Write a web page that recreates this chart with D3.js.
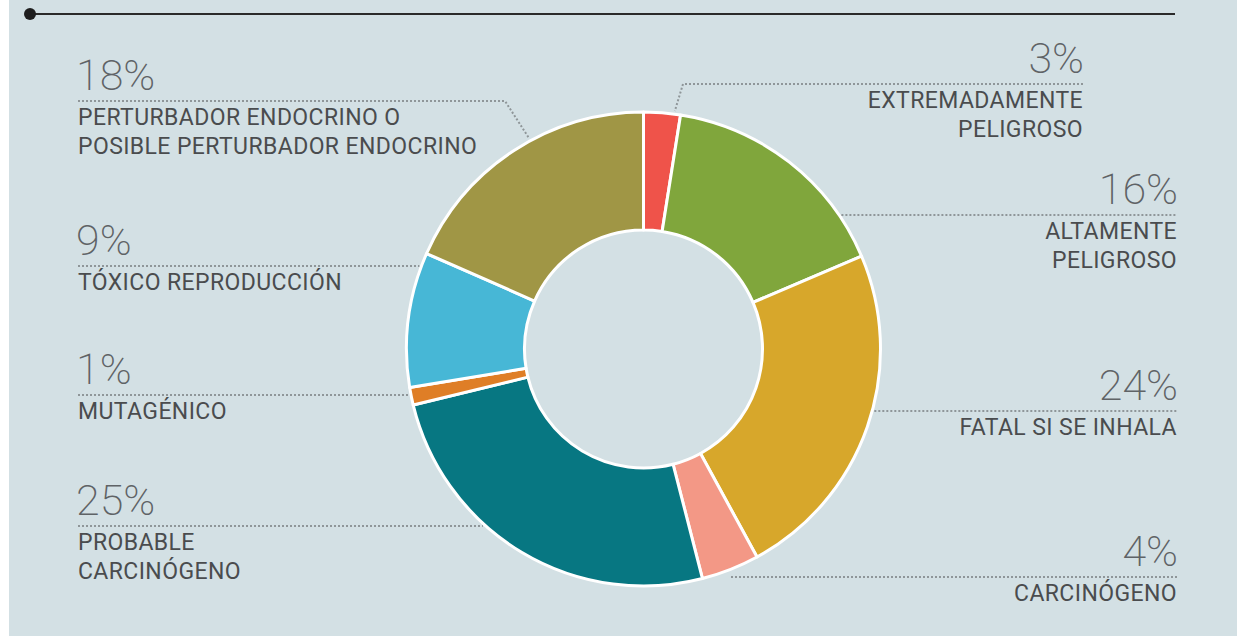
<!DOCTYPE html>
<html><head><meta charset="utf-8">
<script src="https://cdn.jsdelivr.net/npm/d3@7"></script>
<style>
html,body{margin:0;padding:0;background:#fff;}
svg{display:block;}
</style></head>
<body>
<svg id="chart" width="1246" height="636"></svg>
<script>
// ---- data ----
const categories = ["EXTREMADAMENTE\nPELIGROSO","ALTAMENTE\nPELIGROSO","FATAL SI SE INHALA","CARCINÓGENO","PROBABLE\nCARCINÓGENO","MUTAGÉNICO","TÓXICO REPRODUCCIÓN","PERTURBADOR ENDOCRINO O\nPOSIBLE PERTURBADOR ENDOCRINO"];
const values = [2.5,16.1,23.45,3.95,25.2,1.2,9.2,18.4];
const percentLabels = ["3%","16%","24%","4%","25%","1%","9%","18%"];
const colors = ["#ef534a","#80a63c","#d7a72b","#f39886","#077782","#df7e26","#47b7d6","#a09645"];

// ---- layout (label placement) ----
const layout = [
  {side:"right", y:84,  x:1083, elbowX:683, angleDeg:7.5},
  {side:"right", y:215, x:1177},
  {side:"right", y:411, x:1177},
  {side:"right", y:577, x:1177, startX:731},
  {side:"left",  y:526, x:78},
  {side:"left",  y:395, x:78},
  {side:"left",  y:266, x:78},
  {side:"left",  y:101, x:78, elbowX:505, angleDeg:331.5}
];

const W=1246,H=636;
const cx=643.5, cy=349, rOuter=237, rInner=119;
const svg=d3.select("#chart");

svg.append("rect").attr("x",9).attr("y",0).attr("width",1228).attr("height",H).attr("fill","#d3e0e4");

// top rule
svg.append("line").attr("x1",30).attr("x2",1175).attr("y1",14).attr("y2",14)
  .attr("stroke","#2a2a2a").attr("stroke-width",2);
svg.append("circle").attr("cx",30).attr("cy",14).attr("r",6).attr("fill","#1e1e1e");

const pie=d3.pie().sort(null).value(d=>d).startAngle(0).endAngle(2*Math.PI);
const arcs=pie(values);
const arc=d3.arc().innerRadius(rInner).outerRadius(rOuter);

const g=svg.append("g").attr("transform",`translate(${cx},${cy})`);
g.selectAll("path").data(arcs).join("path")
  .attr("d",arc).attr("fill",(d,i)=>colors[i])
  .attr("stroke","#fff").attr("stroke-width",3).attr("stroke-linejoin","round");

// labels
const lab=svg.append("g");
layout.forEach((L,i)=>{
  const dy=L.y-cy;
  const dx=Math.sqrt(Math.max(0,(rOuter+2)**2-dy*dy));
  let pts;
  if(L.angleDeg!==undefined){
    const a=L.angleDeg*Math.PI/180;
    const ex=cx+(rOuter+3)*Math.sin(a), ey=cy-(rOuter+3)*Math.cos(a);
    pts=[[L.x,L.y],[L.elbowX,L.y],[ex,ey]];
  } else if(L.side==="right"){
    const sx=L.startX!==undefined?L.startX:cx+dx;
    pts=[[sx,L.y],[L.x,L.y]];
  } else {
    pts=[[L.x,L.y],[cx-dx,L.y]];
  }
  lab.append("path").attr("d",d3.line()(pts)).attr("fill","none")
    .attr("stroke","#8f9699").attr("stroke-width",2).attr("stroke-dasharray","2,2");
  const anchor=L.side==="right"?"end":"start";
  lab.append("text").attr("x",L.x+(L.side==="right"?1:-2)).attr("y",L.y-11)
    .attr("text-anchor",anchor).attr("font-family","Roboto").attr("font-weight",200)
    .attr("font-size",43).attr("fill","#5f6366").text(percentLabels[i]);
  const lines=categories[i].split("\n");
  lines.forEach((t,j)=>{
    lab.append("text").attr("x",L.x).attr("y",L.y+24+j*29)
      .attr("text-anchor",anchor).attr("font-family","Roboto").attr("font-weight",400)
      .attr("font-size",23).attr("letter-spacing","0.4px").attr("fill","#4a4c4e").text(t);
  });
});
</script>
</body></html>
